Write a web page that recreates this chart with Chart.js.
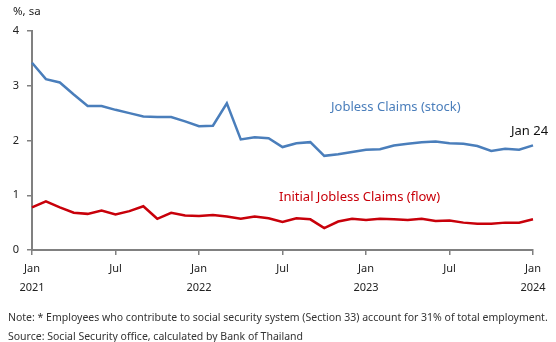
<!DOCTYPE html>
<html>
<head>
<meta charset="utf-8">
<script src="https://cdn.jsdelivr.net/npm/chart.js@4"></script>
<style>
  html, body { margin: 0; padding: 0; background: #fff; }
  #wrap { width: 556px; height: 342px; position: relative; }
</style>
</head>
<body>
<div id="wrap"><canvas id="myChart"></canvas></div>
<script>
// months Jan 2021 .. Jan 2024
const months = ['Jan','Feb','Mar','Apr','May','Jun','Jul','Aug','Sep','Oct','Nov','Dec'];
const years = ['2021', '2022', '2023', '2024'];
const labels = [];
for (let y = 0; y < years.length; y++) {
  for (let m = 0; m < 12; m++) {
    if (y == 3 && m > 0) break;
    labels.push(months[m] + ' ' + years[y]);
  }
}

const stockClaims = [3.42, 3.12, 3.06, 2.84, 2.63, 2.63, 2.56, 2.50, 2.44, 2.43, 2.43, 2.35,
  2.26, 2.27, 2.68, 2.02, 2.06, 2.04, 1.88, 1.95, 1.97, 1.72, 1.75, 1.79,
  1.83, 1.84, 1.91, 1.94, 1.97, 1.98, 1.95, 1.94, 1.90, 1.81, 1.85, 1.83,
  1.91];
const flowClaims = [0.78, 0.89, 0.78, 0.68, 0.66, 0.72, 0.65, 0.71, 0.80, 0.57, 0.68, 0.63,
  0.62, 0.64, 0.61, 0.57, 0.61, 0.58, 0.51, 0.58, 0.56, 0.40, 0.52, 0.57,
  0.55, 0.57, 0.56, 0.55, 0.57, 0.53, 0.54, 0.50, 0.48, 0.48, 0.50, 0.50,
  0.56];
const yTicks = [0, 1, 2, 3, 4];

const blue = '#4a7ebb';
const red = '#c8000a';
const font = 'Noto Sans';

// show tick only at Jan / Jul
function isMarked(i) {
  return i % 6 == 0;
}

const textPlugin = {
  id: 'texts',
  afterDraw(chart) {
    const c = chart.ctx;
    c.save();
    c.textBaseline = 'middle';
    c.font = '11.5px "' + font + '"';
    c.fillStyle = '#222';
    c.textAlign = 'left';
    c.fillText('%, sa', 13, 12);

    c.font = '13px "' + font + '"';
    c.fillStyle = blue;
    c.fillText('Jobless Claims (stock)', 331, 107);
    c.fillStyle = '#111';
    c.fillText('Jan 24', 511, 131);
    c.fillStyle = red;
    c.fillText('Initial Jobless Claims (flow)', 279, 197);

    c.font = '10.5px "' + font + '"';
    c.fillStyle = '#333';
    c.fillText('Note: * Employees who contribute to social security system (Section 33) account for 31% of total employment.', 8, 318);
    c.fillText('Source: Social Security office, calculated by Bank of Thailand', 8, 337);
    c.restore();
  }
};

const data = {
  labels: labels,
  datasets: [
    {
      label: 'Jobless Claims (stock)',
      data: stockClaims,
      borderColor: blue,
      borderWidth: 2.5,
      pointRadius: 0,
      tension: 0,
    },
    {
      label: 'Initial Jobless Claims (flow)',
      data: flowClaims,
      borderColor: red,
      borderWidth: 2.5,
      pointRadius: 0,
      tension: 0,
    },
  ],
};

const config = {
  type: 'line',
  data: data,
  options: {
    responsive: true,
    maintainAspectRatio: false,
    animation: false,
    layout: { padding: { left: 0, top: 31, right: 23, bottom: 42 } },
    plugins: {
      legend: { display: false },
      tooltip: { enabled: false },
    },
    scales: {
      x: {
        afterFit(scale) { scale.height = 50; },
        offset: false,
        border: { color: '#808080', width: 2 },
        grid: {
          drawOnChartArea: false,
          tickLength: 5,
          lineWidth: 1.5,
          color: (ctx) => isMarked(ctx.index) ? '#808080' : 'rgba(0,0,0,0)',
        },
        ticks: {
          autoSkip: false,
          maxRotation: 0,
          padding: 4,
          color: '#222',
          font: { family: font, size: 11, lineHeight: 1.75 },
          callback(val, i) {
            if (i % 12 == 0) return ['Jan', years[i / 12]];
            if (i % 12 == 6) return 'Jul';
            return '';
          },
        },
      },
      y: {
        afterFit(scale) { scale.width = 32; },
        min: yTicks[0],
        max: yTicks[yTicks.length - 1],
        border: { color: '#808080', width: 2 },
        grid: { drawOnChartArea: false, tickLength: 5, lineWidth: 1.5, color: '#808080' },
        ticks: {
          stepSize: 1,
          padding: 8,
          color: '#222',
          font: { family: font, size: 11 },
        },
      },
    },
  },
  plugins: [textPlugin],
};

const myChart = new Chart(document.getElementById('myChart'), config);
</script>
</body>
</html>
